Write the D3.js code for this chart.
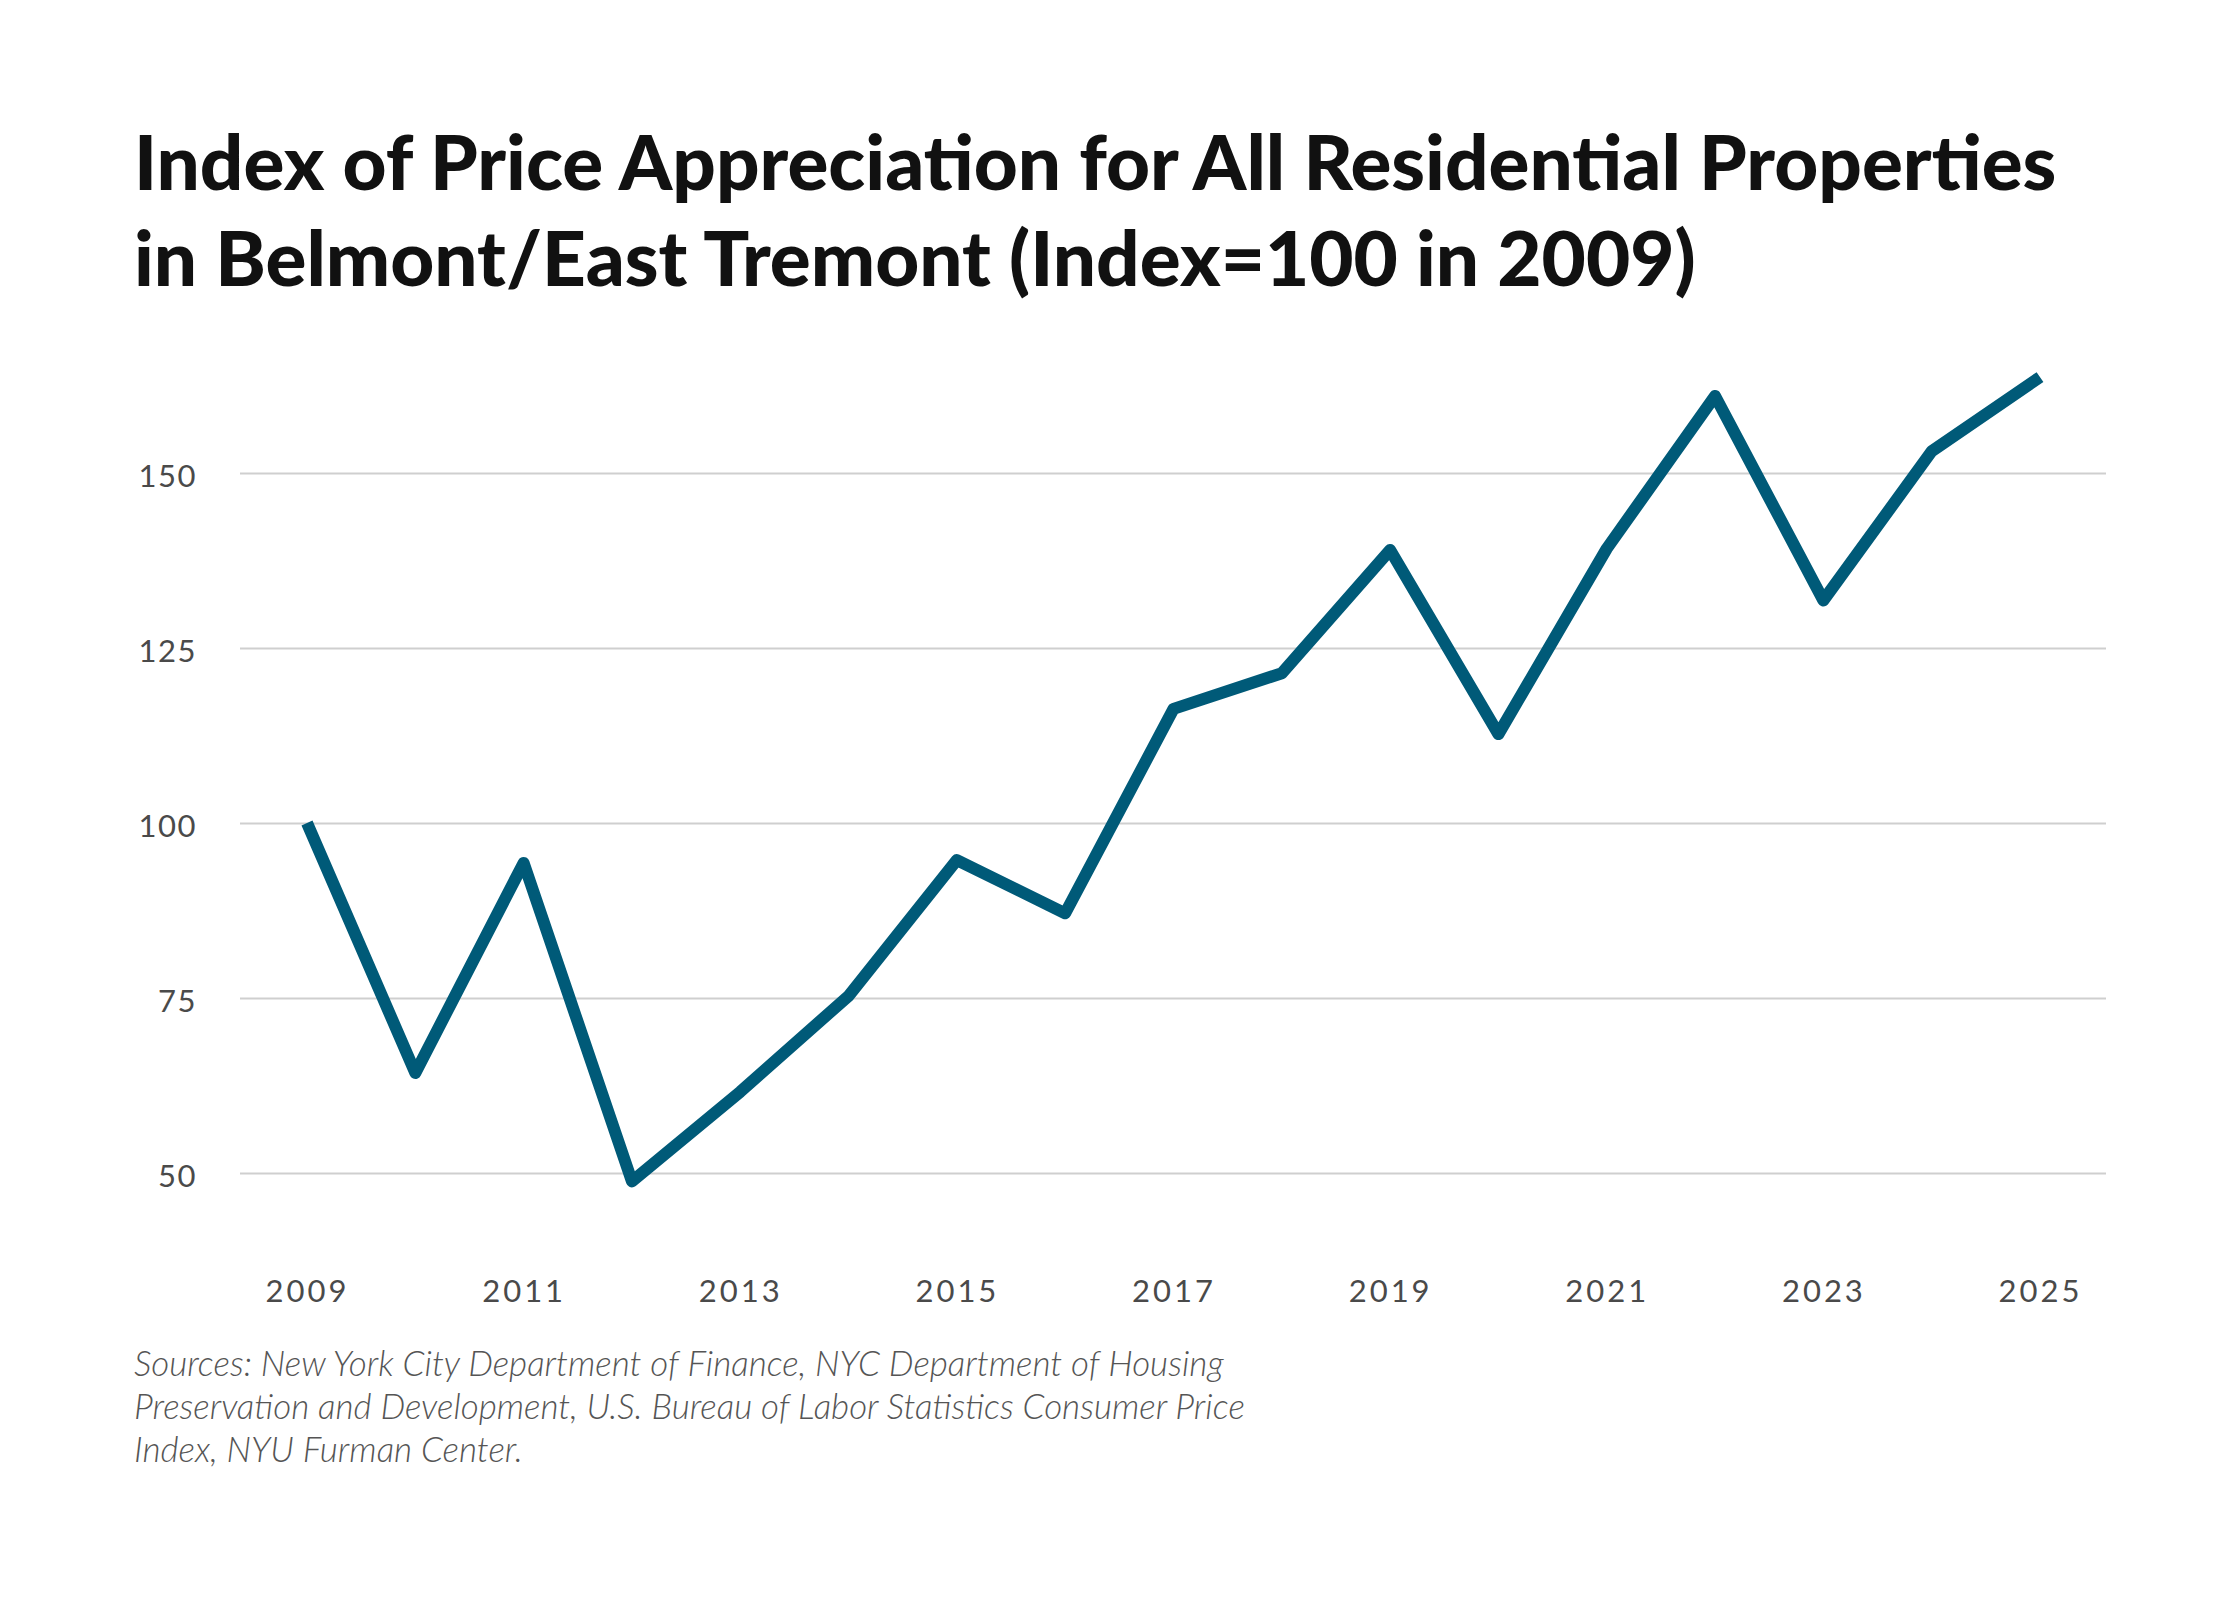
<!DOCTYPE html>
<html>
<head>
<meta charset="utf-8">
<script src="https://cdn.jsdelivr.net/npm/d3@7"></script>
<style>
  html, body { margin: 0; padding: 0; background: #ffffff; }
  svg { display: block; }
</style>
</head>
<body>
<svg id="chart" width="2240" height="1600"></svg>
<script>
const years = [2009,2010,2011,2012,2013,2014,2015,2016,2017,2018,2019,2020,2021,2022,2023,2024,2025];
const indexValues = [100,64.3,94.3,48.8,61.6,75.3,94.7,87.1,116.3,121.4,139.0,112.7,139.2,161.0,131.8,153.1,163.7];
const yTicks = [50,75,100,125,150];
const xTicks = [2009,2011,2013,2015,2017,2019,2021,2023,2025];
const titleLines = ["Index of Price Appreciation for All Residential Properties","in Belmont/East Tremont (Index=100 in 2009)"];
const sourceLines = ["Sources: New York City Department of Finance, NYC Department of Housing","Preservation and Development, U.S. Bureau of Labor Statistics Consumer Price","Index, NYU Furman Center."];

const svg = d3.select("#chart");
const left = 240, right = 2106;
const x = d3.scaleLinear().domain([2009, 2025]).range([307, 2040]);
const y = d3.scaleLinear().domain([50, 150]).range([1173, 473]);

// Title
const tl = svg.append("g").selectAll("text").data(titleLines).join("text")
  .attr("x", 134)
  .attr("y", (d,i) => 190 + i*96)
  .attr("font-family", "Lato, 'Open Sans', sans-serif")
  .attr("font-weight", 900)
  .attr("font-size", 62)
  .attr("fill", "#111")
  .text(d => d);
const w0 = tl.nodes()[0].getComputedTextLength();
tl.attr("font-size", 62 * 1923 / w0);

// Y axis + gridlines
const yAxis = d3.axisLeft(y).tickValues(yTicks).tickSize(-(right-left)).tickPadding(43);
const gy = svg.append("g").attr("transform", `translate(${left},0)`).call(yAxis);
gy.select(".domain").remove();
gy.selectAll(".tick line").attr("stroke", "#cfcfcf").attr("stroke-width", 2);
gy.selectAll(".tick text")
  .attr("font-family", "Lato, 'Open Sans', sans-serif")
  .attr("font-size", 31)
  .attr("letter-spacing", 1.5)
  .attr("fill", "#4a4a4a")
  .attr("dy", "0.45em");

// X axis labels
const xAxis = d3.axisBottom(x).tickValues(xTicks).tickFormat(d3.format("d")).tickSize(0).tickPadding(30);
const gx = svg.append("g").attr("transform", `translate(0,1250)`).call(xAxis);
gx.select(".domain").remove();
gx.selectAll(".tick text")
  .attr("font-family", "Lato, 'Open Sans', sans-serif")
  .attr("font-size", 31)
  .attr("letter-spacing", 3)
  .attr("fill", "#4a4a4a");

// Line
const line = d3.line().x((d,i) => x(years[i])).y(d => y(d));
svg.append("path")
  .datum(indexValues)
  .attr("d", line)
  .attr("fill", "none")
  .attr("stroke", "#005a78")
  .attr("stroke-width", 12)
  .attr("stroke-linejoin", "round")
  .attr("stroke-linecap", "butt");

// Sources
const src = svg.append("g").selectAll("text").data(sourceLines).join("text")
  .attr("x", 134)
  .attr("y", (d,i) => 1376 + i*43)
  .attr("font-family", "Lato, sans-serif")
  .attr("font-style", "italic")
  .attr("font-weight", 300)
  .attr("font-size", 34)
  .attr("fill", "#555")
  .text(d => d);
const ws = src.nodes()[0].getComputedTextLength();
src.attr("font-size", Math.min(35, 34 * 1259 / ws));
</script>
</body>
</html>
